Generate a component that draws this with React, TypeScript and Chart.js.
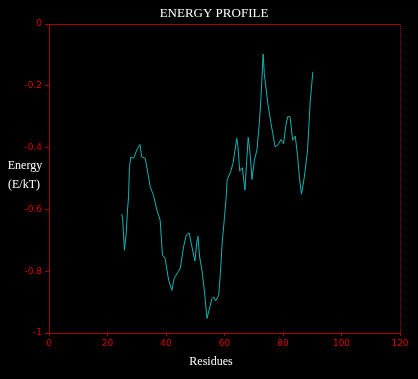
import React, { useEffect, useRef } from "react";
import { Chart, registerables } from "chart.js";

Chart.register(...registerables);

const residues = [
  24.9, 25.2, 25.8, 26.4, 26.8, 27.2, 27.5, 28.0, 28.9, 30.0, 31.1, 31.7, 32.9, 33.5, 34.6, 35.7,
  36.9, 38.0, 38.8, 39.7, 40.9, 42.0, 42.8, 44.9, 46.0, 46.9, 47.9, 48.6, 49.9, 50.6, 50.9, 51.5,
  52.3, 53.2, 54.0, 55.7, 56.3, 57.0, 58.0, 58.6, 59.2, 60.0, 60.6, 60.9, 62.1, 62.9, 63.5, 64.2,
  64.6, 65.2, 66.1, 67.0, 67.6, 68.1, 68.8, 69.4, 70.2, 71.1, 71.9, 72.5, 73.2, 73.6, 74.8, 75.9,
  77.3, 78.2, 79.3, 80.2, 81.0, 81.6, 82.4, 83.3, 84.2, 85.0, 85.6, 86.3, 87.3, 88.4, 89.3, 90.2,
];
const energy = [
  -0.615, -0.635, -0.732, -0.677, -0.608, -0.559, -0.462, -0.43, -0.435, -0.408, -0.39, -0.43,
  -0.435, -0.466, -0.527, -0.554, -0.603, -0.635, -0.748, -0.758, -0.829, -0.862, -0.823, -0.79,
  -0.721, -0.684, -0.676, -0.709, -0.767, -0.7, -0.687, -0.754, -0.797, -0.871, -0.953, -0.889,
  -0.883, -0.896, -0.878, -0.807, -0.709, -0.624, -0.559, -0.505, -0.478, -0.451, -0.414, -0.37,
  -0.397, -0.476, -0.465, -0.538, -0.441, -0.367, -0.424, -0.503, -0.441, -0.408, -0.322, -0.235,
  -0.097, -0.16, -0.257, -0.322, -0.397, -0.392, -0.374, -0.387, -0.327, -0.3, -0.3, -0.376,
  -0.363, -0.43, -0.495, -0.551, -0.495, -0.408, -0.252, -0.155,
];
const xTicks = [0, 20, 40, 60, 80, 100, 120];
const yTicks = [0, -0.2, -0.4, -0.6, -0.8, -1];

const AXIS = "#a80000";
const TICKTXT = "#e00000";

export default function App() {
  const ref = useRef<HTMLCanvasElement | null>(null);
  useEffect(() => {
    document.body.style.margin = "0";
    document.body.style.background = "#000";
    const canvas = ref.current!;
    const textPlugin = {
      id: "texts",
      afterDraw(chart: any) {
        const { ctx, chartArea } = chart;
        ctx.save();
        ctx.strokeStyle = AXIS;
        ctx.lineWidth = 1;
        ctx.beginPath();
        ctx.moveTo(chartArea.left, chartArea.top + 0.5);
        ctx.lineTo(chartArea.right + 0.5, chartArea.top + 0.5);
        ctx.stroke();
        ctx.setLineDash([1, 1]);
        ctx.beginPath();
        ctx.moveTo(chartArea.right + 0.5, chartArea.top);
        ctx.lineTo(chartArea.right + 0.5, chartArea.bottom);
        ctx.stroke();
        ctx.setLineDash([]);
        ctx.fillStyle = "#ffffff";
        ctx.textAlign = "center";
        ctx.textBaseline = "middle";
        ctx.font = "13px 'Liberation Serif'";
        ctx.fillText("ENERGY PROFILE", 214, 14);
        ctx.font = "12px 'Liberation Serif'";
        ctx.fillText("Residues", 211, 362);
        ctx.fillText("Energy", 25, 166);
        ctx.fillText("(E/kT)", 24, 185);
        ctx.restore();
      },
    };
    const chart = new Chart(canvas, {
      type: "line",
      data: {
        datasets: [
          {
            data: residues.map((r, i) => ({ x: r, y: energy[i] })),
            borderColor: "#12b4b4",
            borderWidth: 1,
            pointRadius: 0,
            tension: 0,
            fill: false,
          },
        ],
      },
      options: {
        responsive: false,
        animation: false,
        layout: { padding: { top: 24, right: 18, left: 0, bottom: 0 } },
        plugins: { legend: { display: false }, title: { display: false }, tooltip: { enabled: false } },
        scales: {
          x: {
            type: "linear",
            min: 0,
            max: 120,
            afterFit: (s: any) => { s.height = 46; },
            afterBuildTicks: (s: any) => { s.ticks = xTicks.map((v) => ({ value: v })); },
            ticks: { color: TICKTXT, font: { size: 9, family: "'DejaVu Sans'" }, padding: 2, maxRotation: 0 },
            grid: { drawOnChartArea: false, drawTicks: true, tickLength: 3, color: AXIS },
            border: { color: AXIS, dash: [1, 1] },
          },
          y: {
            min: -1,
            max: 0,
            afterFit: (s: any) => { s.width = 49; },
            afterBuildTicks: (s: any) => { s.ticks = yTicks.map((v) => ({ value: v })); },
            ticks: {
              color: TICKTXT,
              font: { size: 9, family: "'DejaVu Sans'" },
              padding: 3,
              callback: (v: any) => String(Math.round(Number(v) * 10) / 10),
            },
            grid: { drawOnChartArea: false, drawTicks: true, tickLength: 4, color: AXIS },
            border: { color: AXIS },
          },
        },
      },
      plugins: [textPlugin],
    });
    return () => chart.destroy();
  }, []);
  return (
    <div style={{ width: 418, height: 379, background: "#000" }}>
      <canvas ref={ref} width={418} height={379} style={{ display: "block" }} />
    </div>
  );
}
